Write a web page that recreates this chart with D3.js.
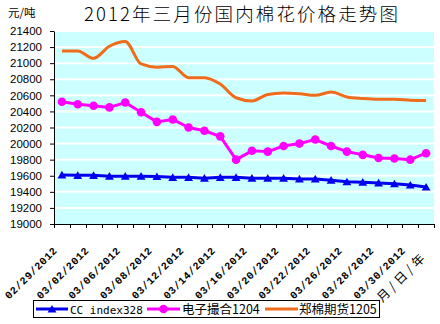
<!DOCTYPE html>
<html>
<head>
<meta charset="utf-8">
<script src="https://cdn.jsdelivr.net/npm/d3@7"></script>
<style>
  body { margin: 0; background: #fff; }
  svg { display: block; }
</style>
</head>
<body>
<svg id="chart" width="440" height="324"></svg>
<script>
// Trading days of March 2012 (03/31 was a working Saturday)
const dates = [
  "02/29/2012", "03/01/2012", "03/02/2012", "03/05/2012", "03/06/2012", "03/07/2012",
  "03/08/2012", "03/09/2012", "03/12/2012", "03/13/2012", "03/14/2012", "03/15/2012",
  "03/16/2012", "03/19/2012", "03/20/2012", "03/21/2012", "03/22/2012", "03/23/2012",
  "03/26/2012", "03/27/2012", "03/28/2012", "03/29/2012", "03/30/2012", "03/31/2012"
];

// Prices, yuan per tonne
const ccIndex328 = [
  19610, 19605, 19605, 19595, 19595, 19595, 19590, 19580, 19580, 19570, 19580, 19580,
  19570, 19570, 19570, 19560, 19560, 19545, 19525, 19520, 19510, 19500, 19485, 19460
];
const dianzi1204 = [
  20520, 20490, 20470, 20450, 20510, 20390, 20270, 20300, 20200, 20160, 20090, 19800,
  19910, 19900, 19970, 20000, 20050, 19970, 19900, 19860, 19820, 19815, 19800, 19880
];
const zhengmian1205 = [
  21150, 21150, 21060, 21210, 21270, 20990, 20950, 20960, 20820, 20820, 20740, 20570,
  20530, 20610, 20630, 20620, 20600, 20640, 20580, 20560, 20550, 20550, 20540, 20535
];

const yTickValues = [19000, 19200, 19400, 19600, 19800, 20000, 20200, 20400, 20600, 20800, 21000, 21200, 21400];
const seriesNames = ["CC index328", "电子撮合1204", "郑棉期货1205"];
const titleText = "2012年三月份国内棉花价格走势图";
const unitText = "元/吨";
const xTitleText = "月/日/年";

const colors = { cc: "#0000ee", dz: "#ff00ff", zm: "#ee6c1c" };
const cjk = "'Noto Sans CJK SC', sans-serif";

const svg = d3.select("#chart");
const plot = { left: 54, right: 434, top: 31, bottom: 224 };

const x = d3.scaleBand().domain(dates).range([plot.left, plot.right]);
const cx = d => x(d) + x.bandwidth() / 2;
const y = d3.scaleLinear().domain([19000, 21400]).range([plot.bottom, plot.top]);

// plot background
svg.append("rect")
  .attr("x", plot.left).attr("y", plot.top)
  .attr("width", plot.right - plot.left).attr("height", plot.bottom - plot.top)
  .attr("fill", "#ccffff");

// horizontal gridlines
svg.append("g")
  .selectAll("line")
  .data(yTickValues.filter(v => v > 19000))
  .join("line")
  .attr("x1", plot.left).attr("x2", plot.right)
  .attr("y1", d => y(d)).attr("y2", d => y(d))
  .attr("stroke", "#fff").attr("stroke-width", 2);

// y axis
const yAxis = svg.append("g")
  .attr("transform", `translate(${plot.left},0)`)
  .call(d3.axisLeft(y).tickValues(yTickValues).tickFormat(d3.format("d"))
    .tickSize(4).tickPadding(8).tickSizeOuter(0));
yAxis.select(".domain").attr("stroke", "#000");
yAxis.selectAll(".tick line").attr("stroke", "#000");
yAxis.selectAll("text")
  .attr("font-family", "'Liberation Sans', Arial, sans-serif")
  .attr("font-size", 11.5).attr("fill", "#000");

// x axis with every other date labelled
const xAxis = svg.append("g")
  .attr("transform", `translate(0,${plot.bottom})`)
  .call(d3.axisBottom(x).tickValues(dates.filter((d, i) => i % 2 === 0)).tickSize(0).tickSizeOuter(0));
xAxis.select(".domain").attr("stroke", "#000");
xAxis.selectAll("text")
  .attr("x", 0).attr("y", 0).attr("dy", 0)
  .attr("text-anchor", "end")
  .attr("transform", "translate(-4,27) rotate(-45)")
  .attr("font-family", "'Liberation Mono', 'DejaVu Sans Mono', monospace")
  .attr("font-weight", "bold")
  .attr("font-size", 10.5)
  .attr("letter-spacing", 0.6)
  .attr("fill", "#000");

// tick marks at category boundaries
const boundaries = dates.map(d => x(d)).concat([x(dates[dates.length - 1]) + x.bandwidth()]);
svg.append("g")
  .selectAll("line")
  .data(boundaries)
  .join("line")
  .attr("x1", d => Math.round(d) + 0.5).attr("x2", d => Math.round(d) + 0.5)
  .attr("y1", plot.bottom).attr("y2", plot.bottom + 4)
  .attr("stroke", "#000");

// series lines
const lineLinear = d3.line().x((d, i) => cx(dates[i])).y(d => y(d));
const lineSmooth = d3.line().x((d, i) => cx(dates[i])).y(d => y(d)).curve(d3.curveMonotoneX);

svg.append("path").datum(zhengmian1205)
  .attr("d", lineSmooth).attr("fill", "none")
  .attr("stroke", colors.zm).attr("stroke-width", 3).attr("stroke-linejoin", "round");

svg.append("path").datum(dianzi1204)
  .attr("d", lineLinear).attr("fill", "none")
  .attr("stroke", colors.dz).attr("stroke-width", 3).attr("stroke-linejoin", "round");
svg.append("g").selectAll("circle").data(dianzi1204).join("circle")
  .attr("cx", (d, i) => cx(dates[i])).attr("cy", d => y(d))
  .attr("r", 4.3).attr("fill", colors.dz);

svg.append("path").datum(ccIndex328)
  .attr("d", lineLinear).attr("fill", "none")
  .attr("stroke", colors.cc).attr("stroke-width", 3).attr("stroke-linejoin", "round");
const tri = d3.symbol(d3.symbolTriangle, 34);
svg.append("g").selectAll("path").data(ccIndex328).join("path")
  .attr("d", tri)
  .attr("transform", (d, i) => `translate(${cx(dates[i])},${y(d) + 1})`)
  .attr("fill", colors.cc);

// title and unit
svg.append("text")
  .attr("x", 84).attr("y", 21)
  .attr("font-family", cjk).attr("font-weight", 300)
  .attr("font-size", 18.5)
  .attr("textLength", 314).attr("lengthAdjust", "spacing")
  .attr("fill", "#000")
  .text(titleText);

svg.append("text")
  .attr("x", 8).attr("y", 17)
  .attr("font-family", cjk).attr("font-size", 11.5)
  .attr("fill", "#000")
  .text(unitText);

// x axis title
svg.append("text")
  .attr("text-anchor", "end")
  .attr("transform", "translate(428,257) rotate(-45)")
  .attr("font-family", cjk).attr("font-size", 12.5)
  .attr("letter-spacing", 3.5)
  .attr("fill", "#000")
  .text(xTitleText);

// legend
const legend = svg.append("g");
legend.append("rect")
  .attr("x", 33.5).attr("y", 300.5).attr("width", 346).attr("height", 17)
  .attr("fill", "#fff").attr("stroke", "#000");

const ly = 309;
const legendItems = [
  { name: seriesNames[0], color: colors.cc, x1: 36, x2: 68, tx: 70, marker: "tri", font: "'DejaVu Sans Mono', monospace", size: 11 },
  { name: seriesNames[1], color: colors.dz, x1: 147, x2: 180, tx: 182, marker: "circle", font: cjk, size: 12.5 },
  { name: seriesNames[2], color: colors.zm, x1: 265, x2: 298, tx: 299, marker: null, font: cjk, size: 12.5 }
];
legendItems.forEach(it => {
  legend.append("line")
    .attr("x1", it.x1).attr("x2", it.x2).attr("y1", ly).attr("y2", ly)
    .attr("stroke", it.color).attr("stroke-width", 3);
  const mx = (it.x1 + it.x2) / 2;
  if (it.marker === "tri") {
    legend.append("path").attr("d", tri)
      .attr("transform", `translate(${mx},${ly + 1})`).attr("fill", it.color);
  } else if (it.marker === "circle") {
    legend.append("circle").attr("cx", mx).attr("cy", ly).attr("r", 4.3).attr("fill", it.color);
  }
  legend.append("text")
    .attr("x", it.tx).attr("y", ly + 4.5)
    .attr("font-family", it.font).attr("font-size", it.size)
    .attr("fill", "#000")
    .text(it.name);
});
</script>
</body>
</html>
